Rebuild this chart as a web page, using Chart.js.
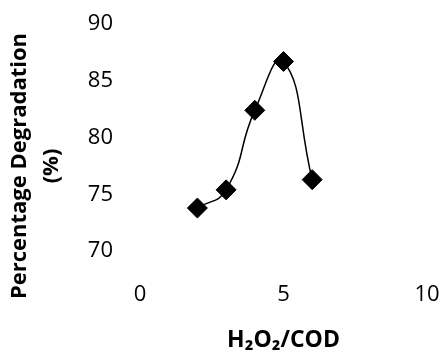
<!DOCTYPE html>
<html>
<head>
<meta charset="utf-8">
<script src="https://cdn.jsdelivr.net/npm/chart.js@4"></script>
<style>
  html, body { margin: 0; padding: 0; background: #fff; }
  #wrap { width: 443px; height: 356px; }
</style>
</head>
<body>
<div id="wrap"><canvas id="chart" width="443" height="356"></canvas></div>
<script>
// Data
const ratio = [2, 3, 4, 5, 6];
const degradation = [73.8, 75.4, 82.4, 86.7, 76.3];
const xTicks = [0, 5, 10];
const yTicks = [70, 75, 80, 85, 90];

const points = ratio.map((x, i) => ({ x: x, y: degradation[i] }));

const chart = new Chart(document.getElementById("chart"), {
  type: "scatter",
  data: {
    datasets: [
      {
        data: points,
        showLine: true,
        borderColor: "#000",
        borderWidth: 1.5,
        tension: 0.5,
        pointStyle: "rectRot",
        pointRadius: 10,
        pointBackgroundColor: "#000",
        pointBorderColor: "#000",
        pointBorderWidth: 1,
      },
    ],
  },
  options: {
    responsive: false,
    animation: false,
    layout: { padding: { top: 24, right: 16, left: 0, bottom: 0 } },
    plugins: { legend: { display: false }, tooltip: { enabled: false } },
    scales: {
      x: {
        type: "linear",
        min: 0,
        max: 10,
        afterBuildTicks: (scale) => { scale.ticks = xTicks.map(v => ({ value: v })); },
        grid: { display: false, drawTicks: false },
        border: { display: false },
        // mirrored so the labels sit just above the bottom of the plot, like the original
        ticks: { color: "#000", font: { family: "Open Sans", size: 22 }, padding: 0, mirror: true, autoSkip: false, maxRotation: 0 },
        title: {
          display: true,
          text: "H\u2082O\u2082/COD",
          color: "#000",
          font: { family: "Open Sans", size: 23, weight: "bold" },
          padding: { top: 0, bottom: 2 },
        },
        afterFit: (scale) => { scale.height = 48; },
      },
      y: {
        min: 65,
        max: 90,
        afterBuildTicks: (scale) => { scale.ticks = [65].concat(yTicks).map(v => ({ value: v })); },
        grid: { display: false, drawTicks: false },
        border: { display: false },
        ticks: {
          color: "#000",
          font: { family: "Open Sans", size: 22 },
          padding: 27,
          callback: (v) => (yTicks.includes(v) ? v : ""),
        },
        title: {
          display: true,
          text: ["Percentage Degradation", "(%)"],
          color: "#000",
          font: { family: "Open Sans", size: 22, weight: "bold", lineHeight: 1.45 },
          padding: { top: 4, bottom: 0 },
        },
        afterFit: (scale) => {
          scale.width = 140;
          scale.paddingTop = 0;
          scale.paddingBottom = 0;
        },
      },
    },
  },
});
</script>
</body>
</html>
